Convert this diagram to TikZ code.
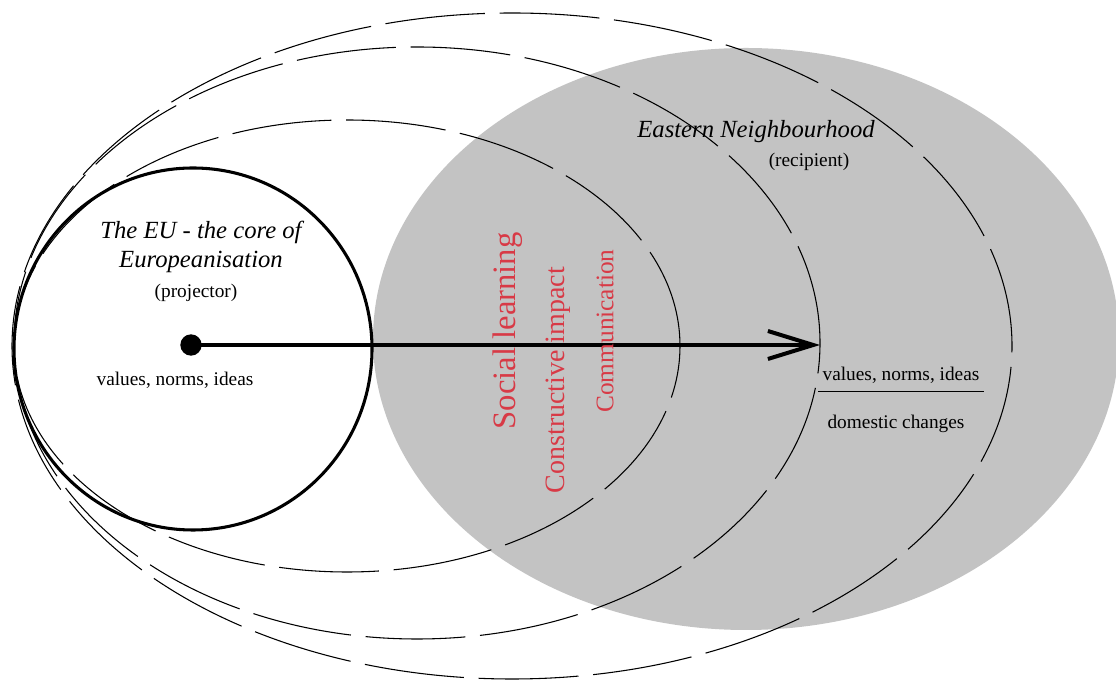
\documentclass[tikz,border=0pt]{standalone}
\usepackage{fontspec}
\setmainfont{Liberation Serif}
\usetikzlibrary{arrows.meta}
\definecolor{areagray}{RGB}{195,195,195}
\definecolor{redtext}{RGB}{216,58,70}
\begin{document}
\begin{tikzpicture}[x=0.75pt, y=0.75pt,
    orbit/.style={line width=0.8pt, dash pattern=on 75pt off 11pt},
    redlabel/.style={text=redtext, rotate=90, inner sep=0pt},
    smalltext/.style={font=\fontsize{14.5}{17}\selectfont, inner sep=0pt}]
    \useasboundingbox (0,0) rectangle (1116,684);
    % shaded recipient area
    \fill[areagray] (746,345) ellipse [x radius=373, y radius=291];
    % dashed rings of influence
    \draw[orbit] (347,338) ellipse [x radius=333, y radius=226];
    \draw[orbit] (417,341) ellipse [x radius=403, y radius=296];
    \draw[orbit] (512,338) ellipse [x radius=500, y radius=333];
    % the core
    \draw[line width=2.3pt] (193,335) ellipse [x radius=179, y radius=181];
    \node[align=center, font=\fontsize{18.5}{22}\selectfont\itshape, inner sep=0pt] (core) at (201,437) {The EU - the core of\\Europeanisation};
    \node[smalltext] (projector) at (196,391) {(projector)};
    \node[smalltext] (values) at (175,304) {values, norms, ideas};
    \node[circle, fill, minimum size=16pt, inner sep=0pt] (dot) at (191,339) {};
    \coordinate (tip) at (820,339);
    \draw[line width=3pt, -{Straight Barb[length=34pt, width=21pt]}] (dot.center) -- (tip);
    % mechanisms
    \node[redlabel, font=\fontsize{24.5}{28}\selectfont] (social) at (508,353) {Social learning};
    \node[redlabel, font=\fontsize{21}{24}\selectfont] (constructive) at (558,304) {Constructive impact};
    \node[redlabel, font=\fontsize{19}{22}\selectfont] (communication) at (605,353) {Communication};
    % recipient
    \node[font=\fontsize{18.5}{22}\selectfont\itshape, inner sep=0pt] (eastern) at (756,552) {Eastern Neighbourhood};
    \node[smalltext] (recipient) at (809,522) {(recipient)};
    \node[smalltext, inner xsep=3pt, inner ysep=6pt] (values2) at (901,309) {values, norms, ideas};
    \draw[line width=0.8pt] (values2.south west) -- (values2.south east);
    \node[smalltext] (changes) at (896,260) {domestic changes};
\end{tikzpicture}
\end{document}
